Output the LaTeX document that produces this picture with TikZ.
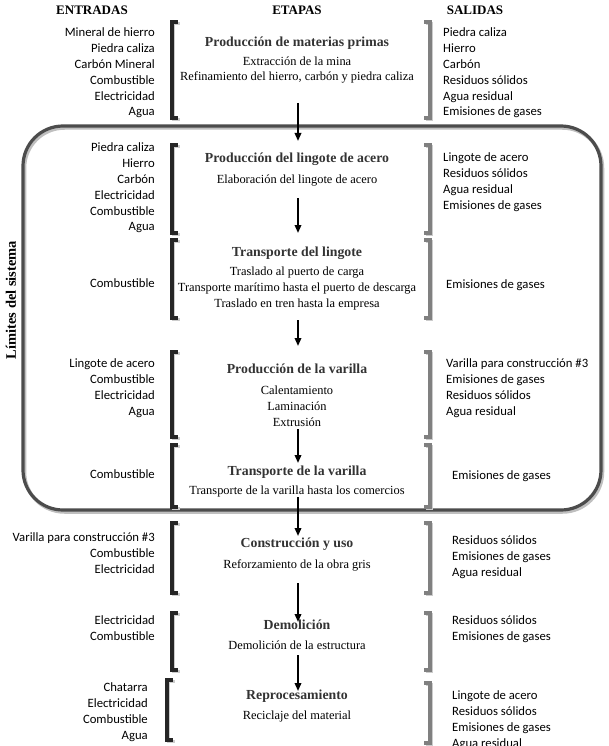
\documentclass[tikz,border=0pt]{standalone}
\usepackage{fontspec}
\setmainfont{Liberation Serif}
\newfontfamily\calfont{Carlito}
\usetikzlibrary{arrows.meta}
\tikzset{
  hdr/.style={font=\fontsize{13}{15}\selectfont\bfseries, inner sep=0pt},
  ttl/.style={font=\fontsize{13.8}{16}\selectfont\bfseries, text=black!80, inner sep=0pt},
  bdy/.style={font=\fontsize{12.4}{15.5}\selectfont, align=center, inner sep=0pt},
  inp/.style={font=\calfont\fontsize{12.7}{15.8}\selectfont, align=right, anchor=east, inner sep=0pt},
  outp/.style={font=\calfont\fontsize{12.7}{15.8}\selectfont, align=left, anchor=west, inner sep=0pt},
  lbr/.style={line width=3.2pt, black!85},
  rbr/.style={line width=3.2pt, black!50},
  brshadow/.style={line width=3pt, black!20},
  flow/.style={line width=1.8pt, -{Triangle[length=8pt,width=6.5pt]}},
}
\newcommand{\lbracket}[3]{% x, top, bottom
  \draw[brshadow] (#1+6+1.5,#2+1.5) -- (#1+1.5,#2+1.5) -- (#1+1.5,#3+1.5) -- (#1+6+1.5,#3+1.5);
  \draw[lbr] (#1+6,#2) -- (#1,#2) -- (#1,#3) -- (#1+6,#3);}
\newcommand{\rbracket}[3]{%
  \draw[brshadow] (#1-6+1.5,#2+1.5) -- (#1+1.5,#2+1.5) -- (#1+1.5,#3+1.5) -- (#1-6+1.5,#3+1.5);
  \draw[rbr] (#1-6,#2) -- (#1,#2) -- (#1,#3) -- (#1-6,#3);}
\begin{document}
\begin{tikzpicture}[x=1pt,y=-1pt]
\useasboundingbox (0,0) rectangle (609,746);
% system boundary
\draw[line width=3.5pt, black!25, rounded corners=40pt] (24.5,128) rectangle (602.5,512);
\draw[line width=3.2pt, black!70, rounded corners=40pt] (23,126) rectangle (601,510);
\node[hdr, font=\fontsize{14.5}{16}\selectfont\bfseries, rotate=90] (lim) at (11,300) {Límites del sistema};

% headers
\node[hdr] (hE) at (92,10) {ENTRADAS};
\node[hdr] (hT) at (297,10) {ETAPAS};
\node[hdr] (hS) at (475,10) {SALIDAS};

% Stage 1
\lbracket{172}{22}{118}\rbracket{430}{22}{118}
\node[inp] (i1) at (155,73) {Mineral de hierro\\Piedra caliza\\Carbón Mineral\\Combustible\\Electricidad\\Agua};
\node[outp] (o1) at (443,73) {Piedra caliza\\Hierro\\Carbón\\Residuos sólidos\\Agua residual\\Emisiones de gases};
\node[ttl] (t1) at (297,43) {Producción de materias primas};
\node[bdy] (b1) at (297,70) {Extracción de la mina\\Refinamiento del hierro, carbón y piedra caliza};

% Stage 2
\lbracket{172}{145}{233}\rbracket{430}{145}{233}
\node[inp] (i2) at (155,188) {Piedra caliza\\Hierro\\Carbón\\Electricidad\\Combustible\\Agua};
\node[outp] (o2) at (443,182) {Lingote de acero\\Residuos sólidos\\Agua residual\\Emisiones de gases};
\node[ttl] (t2) at (297,159) {Producción del lingote de acero};
\node[bdy] (b2) at (297,181) {Elaboración del lingote de acero};

% Stage 3
\lbracket{172}{240}{318}\rbracket{430}{240}{318}
\node[inp] (i3) at (155,283) {Combustible};
\node[outp] (o3) at (446,285) {Emisiones de gases};
\node[ttl] (t3) at (297,253) {Transporte del lingote};
\node[bdy, font=\fontsize{12.4}{16}\selectfont] (b3) at (297,289) {Traslado al puerto de carga\\Transporte marítimo hasta el puerto de descarga\\Traslado en tren hasta la empresa};

% Stage 4
\lbracket{172}{352}{437}\rbracket{430}{352}{437}
\node[inp] (i4) at (155,388) {Lingote de acero\\Combustible\\Electricidad\\Agua};
\node[outp] (o4) at (446,388) {Varilla para construcción \#3\\Emisiones de gases\\Residuos sólidos\\Agua residual};
\node[ttl] (t4) at (297,369) {Producción de la varilla};
\node[bdy, font=\fontsize{12.4}{16}\selectfont] (b4) at (297,406) {Calentamiento\\Laminación\\Extrusión};

% Stage 5
\lbracket{172}{445}{507}\rbracket{430}{445}{507}
\node[inp] (i5) at (155,474) {Combustible};
\node[outp] (o5) at (452,476) {Emisiones de gases};
\node[ttl] (t5) at (297,472) {Transporte de la varilla};
\node[bdy] (b5) at (297,492) {Transporte de la varilla hasta los comercios};

% Stage 6
\lbracket{172}{523}{593}\rbracket{430}{523}{593}
\node[inp] (i6) at (155,553) {Varilla para construcción \#3\\Combustible\\Electricidad};
\node[outp] (o6) at (452,557) {Residuos sólidos\\Emisiones de gases\\Agua residual};
\node[ttl] (t6) at (297,544) {Construcción y uso};
\node[bdy] (b6) at (297,565) {Reforzamiento de la obra gris};

% Stage 7
\lbracket{172}{613}{670}\rbracket{430}{613}{670}
\node[inp] (i7) at (155,628) {Electricidad\\Combustible};
\node[outp] (o7) at (452,629) {Residuos sólidos\\Emisiones de gases};
\node[ttl] (t7) at (297,625) {Demolición};
\node[bdy] (b7) at (297,645) {Demolición de la estructura};

% Stage 8
\lbracket{167}{680}{740}\rbracket{430}{683}{743}
\node[inp] (i8) at (148,712) {Chatarra\\Electricidad\\Combustible\\Agua};
\node[outp] (o8) at (452,720) {Lingote de acero\\Residuos sólidos\\Emisiones de gases\\Agua residual};
\node[ttl] (t8) at (297,696) {Reprocesamiento};
\node[bdy] (b8) at (297,717) {Reciclaje del material};

% flow arrows
\coordinate (a1s) at (298,103); \coordinate (a1e) at (298,141);
\coordinate (a2s) at (298,198); \coordinate (a2e) at (298,233);
\coordinate (a3s) at (298,320); \coordinate (a3e) at (298,346);
\coordinate (a4s) at (298,429); \coordinate (a4e) at (298,463);
\coordinate (a5s) at (298,497); \coordinate (a5e) at (298,536);
\coordinate (a6s) at (298,583); \coordinate (a6e) at (298,622);
\coordinate (a7s) at (298,655); \coordinate (a7e) at (298,691);
\foreach \k in {1,...,7} {\draw[flow] (a\k s) -- (a\k e);}
\end{tikzpicture}
\end{document}
